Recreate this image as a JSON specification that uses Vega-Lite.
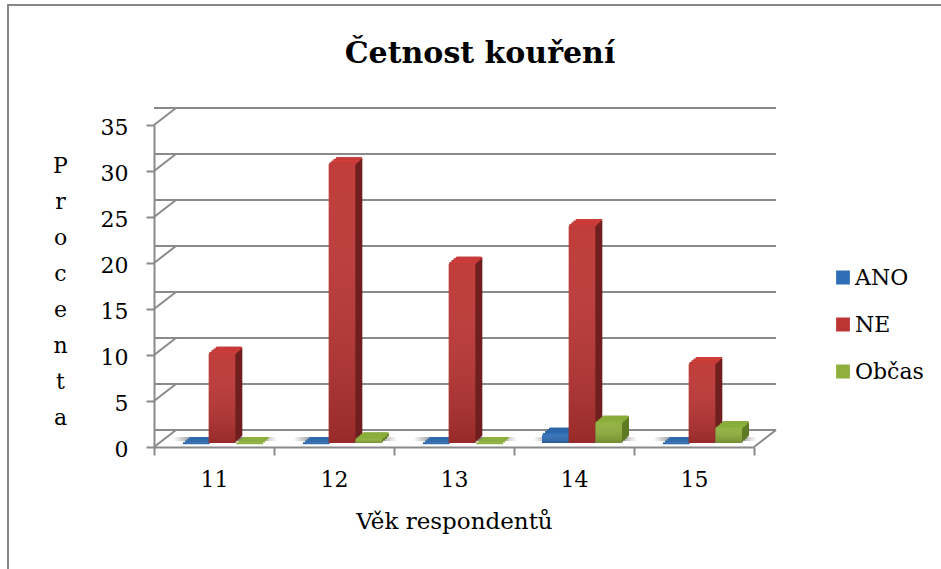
{"$schema":"https://vega.github.io/schema/vega-lite/v6.json","width":600,"height":322,"autosize":{"type":"none"},"padding":{"left":154,"top":125,"right":187,"bottom":122},"background":"white","view":{"stroke":null},
"title":{"text":"Četnost kouření","font":"DejaVu Serif","fontSize":30,"fontWeight":"bold","color":"black","anchor":"middle","dx":26,"offset":-65},
"datasets":{"grid":[{"v":0},{"v":5},{"v":10},{"v":15},{"v":20},{"v":25},{"v":30},{"v":35}],"floor":[{"v":0}],"ages":[{"age":"11"},{"age":"12"},{"age":"13"},{"age":"14"},{"age":"15"}],
"bars":[{"age":"11","series":"ANO","v":0},{"age":"11","series":"NE","v":9.8},{"age":"11","series":"Občas","v":0},{"age":"12","series":"ANO","v":0},{"age":"12","series":"NE","v":30.4},{"age":"12","series":"Občas","v":0.5},{"age":"13","series":"ANO","v":0},{"age":"13","series":"NE","v":19.6},{"age":"13","series":"Občas","v":0},{"age":"14","series":"ANO","v":1},{"age":"14","series":"NE","v":23.7},{"age":"14","series":"Občas","v":2.3},{"age":"15","series":"ANO","v":0},{"age":"15","series":"NE","v":8.7},{"age":"15","series":"Občas","v":1.7}]},
"data":{"name":"grid"},
"layer":[
{"data":{"values":[{"frame":1}]},"mark":{"type":"rect","fill":null,"stroke":"#868686","strokeWidth":2,"clip":false},"encoding":{"x":{"value":-146},"x2":{"value":800},"y":{"value":-120},"y2":{"value":460}}},
{"mark":{"type":"rule","color":"#8a8a8a","strokeWidth":2,"xOffset":22,"yOffset":-17},"encoding":{"y":{"field":"v","type":"quantitative","scale":{"domain":[0,35],"nice":false},"axis":{"values":[0,5,10,15,20,25,30,35],"title":["P","r","o","c","e","n","t","a"],"titleFont":"DejaVu Serif","titleFontSize":22,"titleFontWeight":"normal","titleColor":"black","titleAngle":0,"titleLineHeight":36,"titleAlign":"center","titleBaseline":"top","titleX":-94,"titleY":30,"grid":false,"domainColor":"#8a8a8a","domainWidth":2,"tickColor":"#8a8a8a","tickWidth":2,"tickSize":8,"labelFont":"DejaVu Serif","labelFontSize":22,"labelColor":"black","labelPadding":18,"labelOffset":2}}}},
{"mark":{"type":"rule","color":"#8a8a8a","strokeWidth":2,"y2Offset":-17},"encoding":{"x":{"value":0},"x2":{"value":22},"y":{"field":"v","type":"quantitative"},"y2":{"field":"v"}}},
{"data":{"name":"floor"},"mark":{"type":"rule","color":"#8a8a8a","strokeWidth":2,"y2Offset":-17},"encoding":{"x":{"value":600},"x2":{"value":622},"y":{"field":"v","type":"quantitative"},"y2":{"field":"v"}}},
{"data":{"name":"ages"},"mark":{"type":"bar","width":104,"xOffset":11,"yOffset":-10,"y2Offset":-6,"fill":{"gradient":"linear","x1":0,"y1":0,"x2":1,"y2":0,"stops":[{"offset":0,"color":"rgba(110,110,110,0)"},{"offset":0.2,"color":"rgba(110,110,110,0.8)"},{"offset":0.8,"color":"rgba(110,110,110,0.8)"},{"offset":1,"color":"rgba(110,110,110,0)"}]}},"encoding":{"x":{"field":"age","type":"nominal","scale":{"domain":["11","12","13","14","15"],"paddingInner":0,"paddingOuter":0},"axis":{"title":"Věk respondentů","titleFont":"DejaVu Serif","titleFontSize":23,"titleFontWeight":"normal","titleColor":"black","titlePadding":20,"labelAngle":0,"tickBand":"extent","domainColor":"#8a8a8a","domainWidth":2,"tickColor":"#8a8a8a","tickWidth":2,"tickSize":8,"labelFont":"DejaVu Serif","labelFontSize":22,"labelColor":"black","labelPadding":14}},"y":{"datum":0,"type":"quantitative"},"y2":{"datum":0}}},
{"data":{"name":"bars"},
"encoding":{"x":{"field":"age","type":"nominal"},"y":{"field":"v","type":"quantitative","stack":null}},
"resolve":{"scale":{"color":"independent","xOffset":"independent"}},
"layer":[
{"mark":{"type":"bar","yOffset":-10,"y2Offset":-10,"cornerRadius":2},"encoding":{"y2":{"datum":0},"xOffset":{"field":"series","type":"nominal","scale":{"type":"band","domain":["ANO","NE","Občas"],"paddingInner":0,"paddingOuter":0.75,"range":[15,135]}},"color":{"field":"series","type":"nominal","legend":null,"scale":{"domain":["ANO","NE","Občas"],"range":["#1f4d85","#6f1f1f","#5f7a25"]}}}},
{"mark":{"type":"bar","yOffset":-8.2,"y2Offset":-8.2},"encoding":{"y2":{"datum":0},"xOffset":{"field":"series","type":"nominal","scale":{"type":"band","domain":["ANO","NE","Občas"],"paddingInner":0,"paddingOuter":0.75,"range":[13,133]}},"color":{"field":"series","type":"nominal","legend":null,"scale":{"domain":["ANO","NE","Občas"],"range":["#1f4d85","#6f1f1f","#5f7a25"]}}}},
{"mark":{"type":"bar","yOffset":-6.5,"y2Offset":-6.5},"encoding":{"y2":{"datum":0},"xOffset":{"field":"series","type":"nominal","scale":{"type":"band","domain":["ANO","NE","Občas"],"paddingInner":0,"paddingOuter":0.75,"range":[11,131]}},"color":{"field":"series","type":"nominal","legend":null,"scale":{"domain":["ANO","NE","Občas"],"range":["#1f4d85","#6f1f1f","#5f7a25"]}}}},
{"mark":{"type":"bar","yOffset":-4.8,"y2Offset":-4.8},"encoding":{"y2":{"datum":0},"xOffset":{"field":"series","type":"nominal","scale":{"type":"band","domain":["ANO","NE","Občas"],"paddingInner":0,"paddingOuter":0.75,"range":[9,129]}},"color":{"field":"series","type":"nominal","legend":null,"scale":{"domain":["ANO","NE","Občas"],"range":["#1f4d85","#6f1f1f","#5f7a25"]}}}},
{"mark":{"type":"bar","yOffset":-10,"y2Offset":-8,"cornerRadius":1},"encoding":{"xOffset":{"field":"series","type":"nominal","scale":{"type":"band","domain":["ANO","NE","Občas"],"paddingInner":0,"paddingOuter":0.75,"range":[15,135]}},"y2":{"field":"v"},"color":{"field":"series","type":"nominal","legend":null,"scale":{"domain":["ANO","NE","Občas"],"range":["#2f69ad","#cf3d3a","#8cb03c"]}}}},
{"mark":{"type":"bar","yOffset":-8.2,"y2Offset":-6.2},"encoding":{"xOffset":{"field":"series","type":"nominal","scale":{"type":"band","domain":["ANO","NE","Občas"],"paddingInner":0,"paddingOuter":0.75,"range":[13,133]}},"y2":{"field":"v"},"color":{"field":"series","type":"nominal","legend":null,"scale":{"domain":["ANO","NE","Občas"],"range":["#2f69ad","#cf3d3a","#8cb03c"]}}}},
{"mark":{"type":"bar","yOffset":-6.5,"y2Offset":-4.5},"encoding":{"xOffset":{"field":"series","type":"nominal","scale":{"type":"band","domain":["ANO","NE","Občas"],"paddingInner":0,"paddingOuter":0.75,"range":[11,131]}},"y2":{"field":"v"},"color":{"field":"series","type":"nominal","legend":null,"scale":{"domain":["ANO","NE","Občas"],"range":["#2f69ad","#cf3d3a","#8cb03c"]}}}},
{"mark":{"type":"bar","yOffset":-4.8,"y2Offset":-2.8},"encoding":{"xOffset":{"field":"series","type":"nominal","scale":{"type":"band","domain":["ANO","NE","Občas"],"paddingInner":0,"paddingOuter":0.75,"range":[9,129]}},"y2":{"field":"v"},"color":{"field":"series","type":"nominal","legend":null,"scale":{"domain":["ANO","NE","Občas"],"range":["#2f69ad","#cf3d3a","#8cb03c"]}}}},
{"mark":{"type":"bar","yOffset":-4,"y2Offset":-4,"cornerRadiusTopLeft":2,"cornerRadiusTopRight":2},"encoding":{"y2":{"datum":0},"xOffset":{"field":"series","type":"nominal","scale":{"type":"band","domain":["ANO","NE","Občas"],"paddingInner":0,"paddingOuter":0.75,"range":[8,128]}},"color":{"field":"series","type":"nominal","sort":["ANO","NE","Občas"],"scale":{"domain":["ANO","NE","Občas"],"range":["#2f6fb7","#bd3533","#8fb03c"]},"legend":{"title":null,"orient":"none","legendX":678,"legendY":139,"symbolType":"square","symbolSize":190,"symbolStrokeWidth":0,"labelFont":"DejaVu Serif","labelFontSize":22,"labelColor":"black","labelOffset":1,"rowPadding":20,"clipHeight":27}}}},
{"mark":{"type":"bar","yOffset":-4,"y2Offset":-4,"fill":{"gradient":"linear","x1":0,"y1":0,"x2":0,"y2":1,"stops":[{"offset":0,"color":"rgba(255,255,255,0.04)"},{"offset":1,"color":"rgba(0,0,0,0.2)"}]}},"encoding":{"y2":{"datum":0},"xOffset":{"field":"series","type":"nominal","scale":{"type":"band","domain":["ANO","NE","Občas"],"paddingInner":0,"paddingOuter":0.75,"range":[8,128]}}}}
]}
]}
